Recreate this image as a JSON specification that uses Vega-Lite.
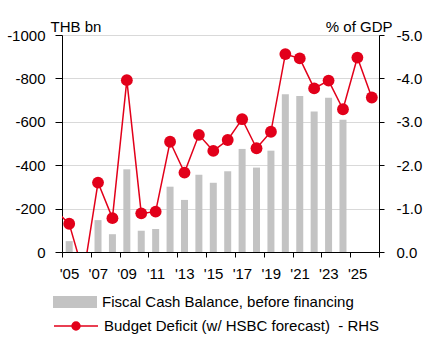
{
  "$schema": "https://vega.github.io/schema/vega-lite/v6.json",
  "width": 317,
  "height": 217,
  "autosize": {"type": "none"},
  "padding": {"left": 62, "top": 35, "right": 50, "bottom": 90},
  "background": "white",
  "config": {
    "font": "Liberation Sans",
    "view": {"stroke": null},
    "axis": {
      "domainColor": "black",
      "tickColor": "black",
      "labelColor": "black",
      "labelFontSize": 15,
      "titleFontSize": 15,
      "titleFontWeight": "normal",
      "titleColor": "black",
      "labelFont": "Liberation Sans",
      "titleFont": "Liberation Sans"
    },
    "axisX": {"labelOverlap": false, "labelFlush": false},
    "legend": {"labelFont": "Liberation Sans", "labelFontSize": 15, "labelColor": "black"}
  },
  "data": {
    "values": [
      {"year": 2004, "cash": null, "deficit": -0.97},
      {"year": 2005, "cash": -50, "deficit": -0.65},
      {"year": 2006, "cash": null, "deficit": 0.5},
      {"year": 2007, "cash": -147, "deficit": -1.60},
      {"year": 2008, "cash": -82, "deficit": -0.78},
      {"year": 2009, "cash": -381, "deficit": -3.96},
      {"year": 2010, "cash": -98, "deficit": -0.89},
      {"year": 2011, "cash": -106, "deficit": -0.93},
      {"year": 2012, "cash": -301, "deficit": -2.54},
      {"year": 2013, "cash": -240, "deficit": -1.83},
      {"year": 2014, "cash": -356, "deficit": -2.70},
      {"year": 2015, "cash": -319, "deficit": -2.33},
      {"year": 2016, "cash": -372, "deficit": -2.58},
      {"year": 2017, "cash": -475, "deficit": -3.06},
      {"year": 2018, "cash": -389, "deficit": -2.39},
      {"year": 2019, "cash": -467, "deficit": -2.77},
      {"year": 2020, "cash": -727, "deficit": -4.56},
      {"year": 2021, "cash": -719, "deficit": -4.46},
      {"year": 2022, "cash": -648, "deficit": -3.77},
      {"year": 2023, "cash": -711, "deficit": -3.95},
      {"year": 2024, "cash": -610, "deficit": -3.29},
      {"year": 2025, "cash": null, "deficit": -4.48},
      {"year": 2026, "cash": null, "deficit": -3.56}
    ]
  },
  "layer": [
    {
      "mark": {"type": "bar", "size": 7, "color": "#c3c3c3"},
      "encoding": {
        "x": {
          "field": "year",
          "type": "quantitative",
          "scale": {"domain": [2004.5, 2026.5], "nice": false, "zero": false, "padding": 0},
          "axis": {
            "title": null,
            "values": [2004.5, 2006.5, 2008.5, 2010.5, 2012.5, 2014.5, 2016.5, 2018.5, 2020.5, 2022.5, 2024.5, 2026.5],
            "tickCount": 30,
            "labelExpr": "datum.value > 2026 ? '' : \"'\" + substring(toString(datum.value + 0.5), 2, 4)",
            "labelOffset": 7,
            "tickSize": 5,
            "labelPadding": 9,
            "grid": false,
            "labelFlush": false,
            "labelOverlap": false
          }
        },
        "y": {
          "field": "cash",
          "type": "quantitative",
          "scale": {"domain": [0, -1000]},
          "axis": {
            "orient": "left",
            "values": [0, -200, -400, -600, -800, -1000],
            "labelExpr": "toString(datum.value)",
            "grid": true,
            "gridColor": "#d9d9d9",
            "tickSize": 7,
            "labelPadding": 10,
            "title": "THB bn",
            "titleAngle": 0,
            "titleAlign": "left",
            "titleBaseline": "middle",
            "titleX": -12,
            "titleY": -9
          }
        },
        "color": {
          "datum": "Fiscal Cash Balance, before financing",
          "scale": {"range": ["#c3c3c3"]},
          "legend": {
            "orient": "none",
            "legendX": -9,
            "legendY": 245,
            "title": null,
            "padding": 0,
            "symbolType": "M-1,-0.27H1V0.27H-1Z",
            "symbolSize": 1936,
            "symbolStrokeWidth": 0,
            "symbolOpacity": 1,
            "labelOffset": 5,
            "labelLimit": 400
          }
        }
      }
    },
    {
      "layer": [
        {
          "mark": {"type": "line", "color": "#e2001a", "strokeWidth": 1.5, "clip": true},
          "encoding": {
            "x": {"field": "year", "type": "quantitative"},
            "y": {
              "field": "deficit",
              "type": "quantitative",
              "scale": {"domain": [0, -5]},
              "axis": {
                "orient": "right",
                "values": [0, -1, -2, -3, -4, -5],
                "labelExpr": "replace(format(datum.value, '.1f'), '\u2212', '-')",
                "grid": false,
                "tickSize": 5,
                "labelPadding": 12,
                "title": "% of GDP",
                "titleAngle": 0,
                "titleAlign": "right",
                "titleBaseline": "middle",
                "titleX": 13,
                "titleY": -9
              }
            },
            "stroke": {
              "datum": "Budget Deficit (w/ HSBC forecast)\u00a0 - RHS",
              "scale": {"range": ["#e2001a"]},
              "legend": {
                "orient": "none",
                "legendX": -9,
                "legendY": 268,
                "title": null,
                "padding": 0,
                "symbolType": "M-1,0H1M0.18,0A0.18,0.18,0,1,1,-0.18,0A0.18,0.18,0,1,1,0.18,0Z",
                "symbolSize": 1936,
                "symbolStrokeWidth": 1.5,
                "labelOffset": 5,
                "labelLimit": 400,
                "encode": {"symbols": {"update": {"fill": {"value": "#e2001a"}, "opacity": {"value": 1}}}}
              }
            }
          }
        },
        {
          "mark": {"type": "point", "filled": true, "size": 140, "color": "#e2001a", "opacity": 1, "clip": true},
          "encoding": {
            "x": {"field": "year", "type": "quantitative"},
            "y": {"field": "deficit", "type": "quantitative"}
          }
        }
      ]
    }
  ],
  "resolve": {"scale": {"y": "independent"}}
}
